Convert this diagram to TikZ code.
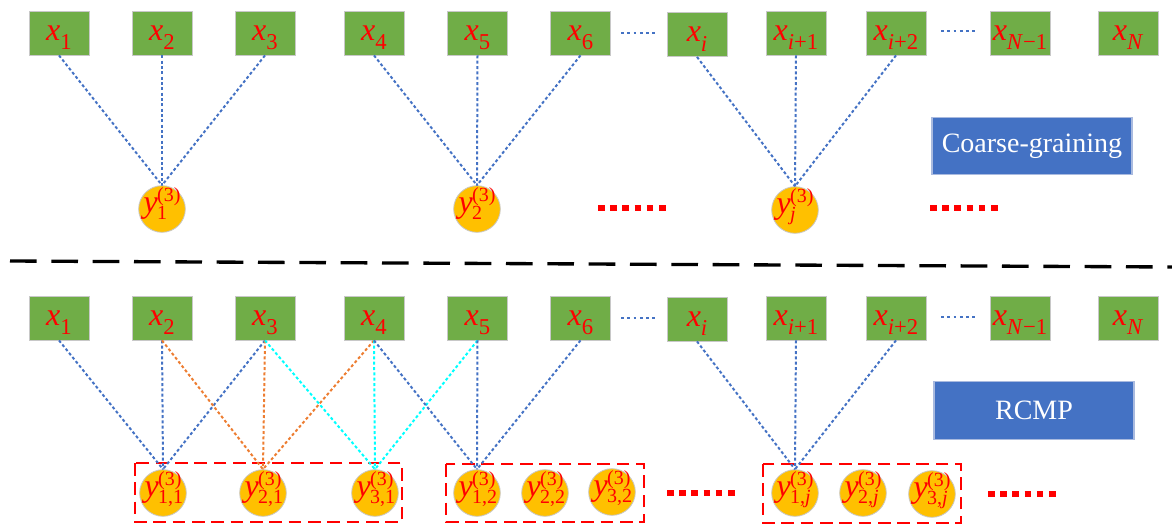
\documentclass[tikz,border=0pt]{standalone}
\usepackage{fontspec}
\setmainfont{Liberation Serif}
\definecolor{gbox}{HTML}{70AD47}
\definecolor{gbord}{HTML}{C8C8C8}
\definecolor{ycirc}{HTML}{FFC000}
\definecolor{lblue}{HTML}{4472C4}
\definecolor{lorange}{HTML}{ED7D31}
\definecolor{lcyan}{HTML}{00FFFF}
\definecolor{bbord}{HTML}{A9BADF}
\newcommand{\xsub}[1]{\textit{x}\smash{\raisebox{-7pt}{\fontsize{17}{17}\selectfont #1}}}
\newcommand{\ysym}[1]{\textit{y}\kern-0.5pt\smash{\raisebox{-4.8pt}{\fontsize{15}{15}\selectfont\rlap{#1}}}\smash{\raisebox{8.5pt}{\fontsize{15}{15}\selectfont(3)}}}
\tikzset{
 xbox/.style={rectangle, fill=gbox, draw=gbord, line width=0.6pt, minimum width=45pt, minimum height=33pt, inner sep=0pt, text=red, font=\fontsize{24}{24}\selectfont},
 ycir/.style={circle, fill=ycirc, draw=gbord, line width=0.6pt, minimum size=35pt, inner sep=0pt, text=red, font=\fontsize{24}{24}\selectfont},
 lbl/.style={rectangle, fill=lblue, draw=bbord, line width=0.8pt, minimum width=150pt, minimum height=43pt, inner sep=0pt, text=white, font=\fontsize{21}{21}\selectfont},
 bl/.style={draw=lblue, line width=1.5pt, dash pattern=on 2.2pt off 1.8pt},
 ol/.style={bl, draw=lorange},
 cl/.style={bl, draw=lcyan},
 grp/.style={draw=red, line width=2pt, dash pattern=on 9.5pt off 5pt},
 rdots/.style={draw=red, line width=4.5pt, dash pattern=on 5pt off 4.15pt},
 bdots/.style={draw=lblue, line width=2.2pt, dash pattern=on 2.2pt off 2.5pt},
 sepline/.style={draw=black, line width=2.5pt, dash pattern=on 20pt off 11pt}
}
\begin{document}
\begin{tikzpicture}[x=0.75pt,y=-0.75pt]
\useasboundingbox (0,0) rectangle (1172,525);
% ---------- top part ----------
\node[xbox] (a1) at (59,33) {\xsub{1}};
\node[xbox] (a2) at (162,33) {\xsub{2}};
\node[xbox] (a3) at (265,33) {\xsub{3}};
\node[xbox] (a4) at (374,33) {\xsub{4}};
\node[xbox] (a5) at (477.5,33) {\xsub{5}};
\node[xbox] (a6) at (580.5,33) {\xsub{6}};
\node[xbox] (ai) at (697,34.5) {\xsub{\textit{i}}};
\node[xbox] (ai1) at (796,33) {\xsub{\textit{i}+1}};
\node[xbox] (ai2) at (896,33) {\xsub{\textit{i}+2}};
\node[xbox] (aN1) at (1020,33) {\xsub{\textit{N}−1}};
\node[xbox] (aN) at (1128,33) {\xsub{\textit{N}}};
\draw[bdots] (621,33) -- (655,33);
\draw[bdots] (941,31) -- (975,31);
\node[ycir] (t1) at (162,209) {\ysym{1}};
\node[ycir] (t2) at (477,209) {\ysym{2}};
\node[ycir] (tj) at (795,210) {\ysym{\textit{j}}};
\draw[rdots] (598,208) -- (666,208);
\draw[rdots] (930,208) -- (998,208);
\node[lbl] (cg) at (1032,146) {Coarse-graining};
\foreach \s in {a1,a2,a3} \draw[bl] (\s.south) -- (t1.north);
\foreach \s in {a4,a5,a6} \draw[bl] (\s.south) -- (t2.north);
\foreach \s in {ai,ai1,ai2} \draw[bl] (\s.south) -- (tj.north);
% ---------- separator ----------
\draw[sepline] (10,261) -- (1172,267);
% ---------- bottom part ----------
\node[xbox] (b1) at (59,318) {\xsub{1}};
\node[xbox] (b2) at (162,318) {\xsub{2}};
\node[xbox] (b3) at (265,318) {\xsub{3}};
\node[xbox] (b4) at (374,318) {\xsub{4}};
\node[xbox] (b5) at (477.5,318) {\xsub{5}};
\node[xbox] (b6) at (580.5,318) {\xsub{6}};
\node[xbox] (bi) at (697,319) {\xsub{\textit{i}}};
\node[xbox] (bi1) at (796,318) {\xsub{\textit{i}+1}};
\node[xbox] (bi2) at (896,318) {\xsub{\textit{i}+2}};
\node[xbox] (bN1) at (1020,318) {\xsub{\textit{N}−1}};
\node[xbox] (bN) at (1128,318) {\xsub{\textit{N}}};
\draw[bdots] (621,318) -- (655,318);
\draw[bdots] (941,317) -- (975,317);
\node[lbl] (rc) at (1034,410.5) {RCMP};
\node[ycir] (c11) at (163,493) {\ysym{1,1}};
\node[ycir] (c21) at (263,493) {\ysym{2,1}};
\node[ycir] (c31) at (375,493) {\ysym{3,1}};
\node[ycir] (c12) at (477,493) {\ysym{1,2}};
\node[ycir] (c22) at (545,493) {\ysym{2,2}};
\node[ycir] (c32) at (612,492) {\ysym{3,2}};
\node[ycir] (c1j) at (795,493) {\ysym{1,\textit{j}}};
\node[ycir] (c2j) at (863,493) {\ysym{2,\textit{j}}};
\node[ycir] (c3j) at (932,494) {\ysym{3,\textit{j}}};
\draw[grp] (135,463) rectangle (402,522);
\draw[grp] (446,464) rectangle (644,522);
\draw[grp] (763,464) rectangle (961,523);
\draw[rdots] (667,493) -- (735,493);
\draw[rdots] (988,494) -- (1057,494);
\foreach \s in {b1,b2,b3} \draw[bl] (\s.south) -- (c11.north);
\foreach \s in {b2,b3,b4} \draw[ol] (\s.south) -- (c21.north);
\foreach \s in {b3,b4,b5} \draw[cl] (\s.south) -- (c31.north);
\foreach \s in {b4,b5,b6} \draw[bl] (\s.south) -- (c12.north);
\foreach \s in {bi,bi1,bi2} \draw[bl] (\s.south) -- (c1j.north);
\end{tikzpicture}
\end{document}
